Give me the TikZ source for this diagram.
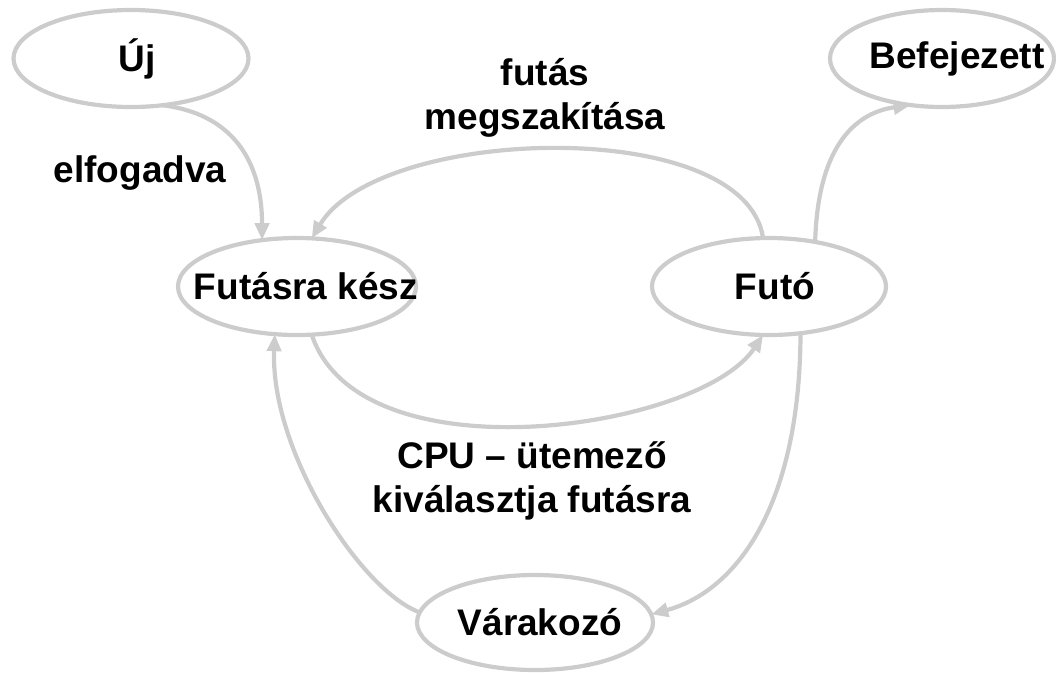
\documentclass[tikz,border=0pt]{standalone}
\usepackage{fontspec}
\setmainfont{Liberation Sans}
\usetikzlibrary{arrows.meta,shapes.geometric}
\definecolor{linegray}{RGB}{204,204,204}
\begin{document}
\begin{tikzpicture}[x=1pt,y=-1pt,
  font=\bfseries\fontsize{37}{44}\selectfont,
  state/.style={ellipse, draw=linegray, line width=4.2pt, inner sep=0pt, outer sep=0pt},
  conn/.style={draw=linegray, line width=4.2pt, -{Triangle[length=17pt,width=14pt]}},
  lbl/.style={align=center}]
\useasboundingbox (0,0) rectangle (1056,673);

% process states
\node[state, minimum width=235pt, minimum height=97pt,
      label={[xshift=6pt]center:Új}] (new) at (131,58.5) {};
\node[state, minimum width=224pt, minimum height=97pt,
      label={[xshift=15pt]center:Befejezett}] (done) at (942,58.5) {};
\node[state, minimum width=238pt, minimum height=97pt,
      label={[xshift=9pt]center:Futásra kész}] (ready) at (297,286.5) {};
\node[state, minimum width=234pt, minimum height=97pt,
      label={[xshift=6pt]center:Futó}] (run) at (769,286.5) {};
\node[state, minimum width=236pt, minimum height=95pt,
      label={[xshift=5pt]center:Várakozó}] (wait) at (535,622.5) {};

% transition labels
\node[lbl, anchor=base] (accept) at (140,182) {elfogadva};
\node[lbl] (preempt) at (545,98) {futás\\megszakítása};
\node[lbl] (dispatch) at (532,481) {CPU – ütemező\\kiválasztja futásra};

% transitions
\draw[conn] (new.-56) .. controls (240,115) and (262,170) .. (ready.127);
\draw[conn] (run.97) .. controls (745,115) and (380,125) .. (ready.73);
\draw[conn] (run.44) .. controls (818,140) and (860,112) .. (done.-124);
\draw[conn] (ready.-73) .. controls (360,480) and (700,430) .. (run.-97);
\draw[conn] (run.-56) .. controls (800,500) and (740,590) .. (wait.4);
\draw[conn] (wait.175) .. controls (360,590) and (270,450) .. (ready.-115);
\end{tikzpicture}
\end{document}
